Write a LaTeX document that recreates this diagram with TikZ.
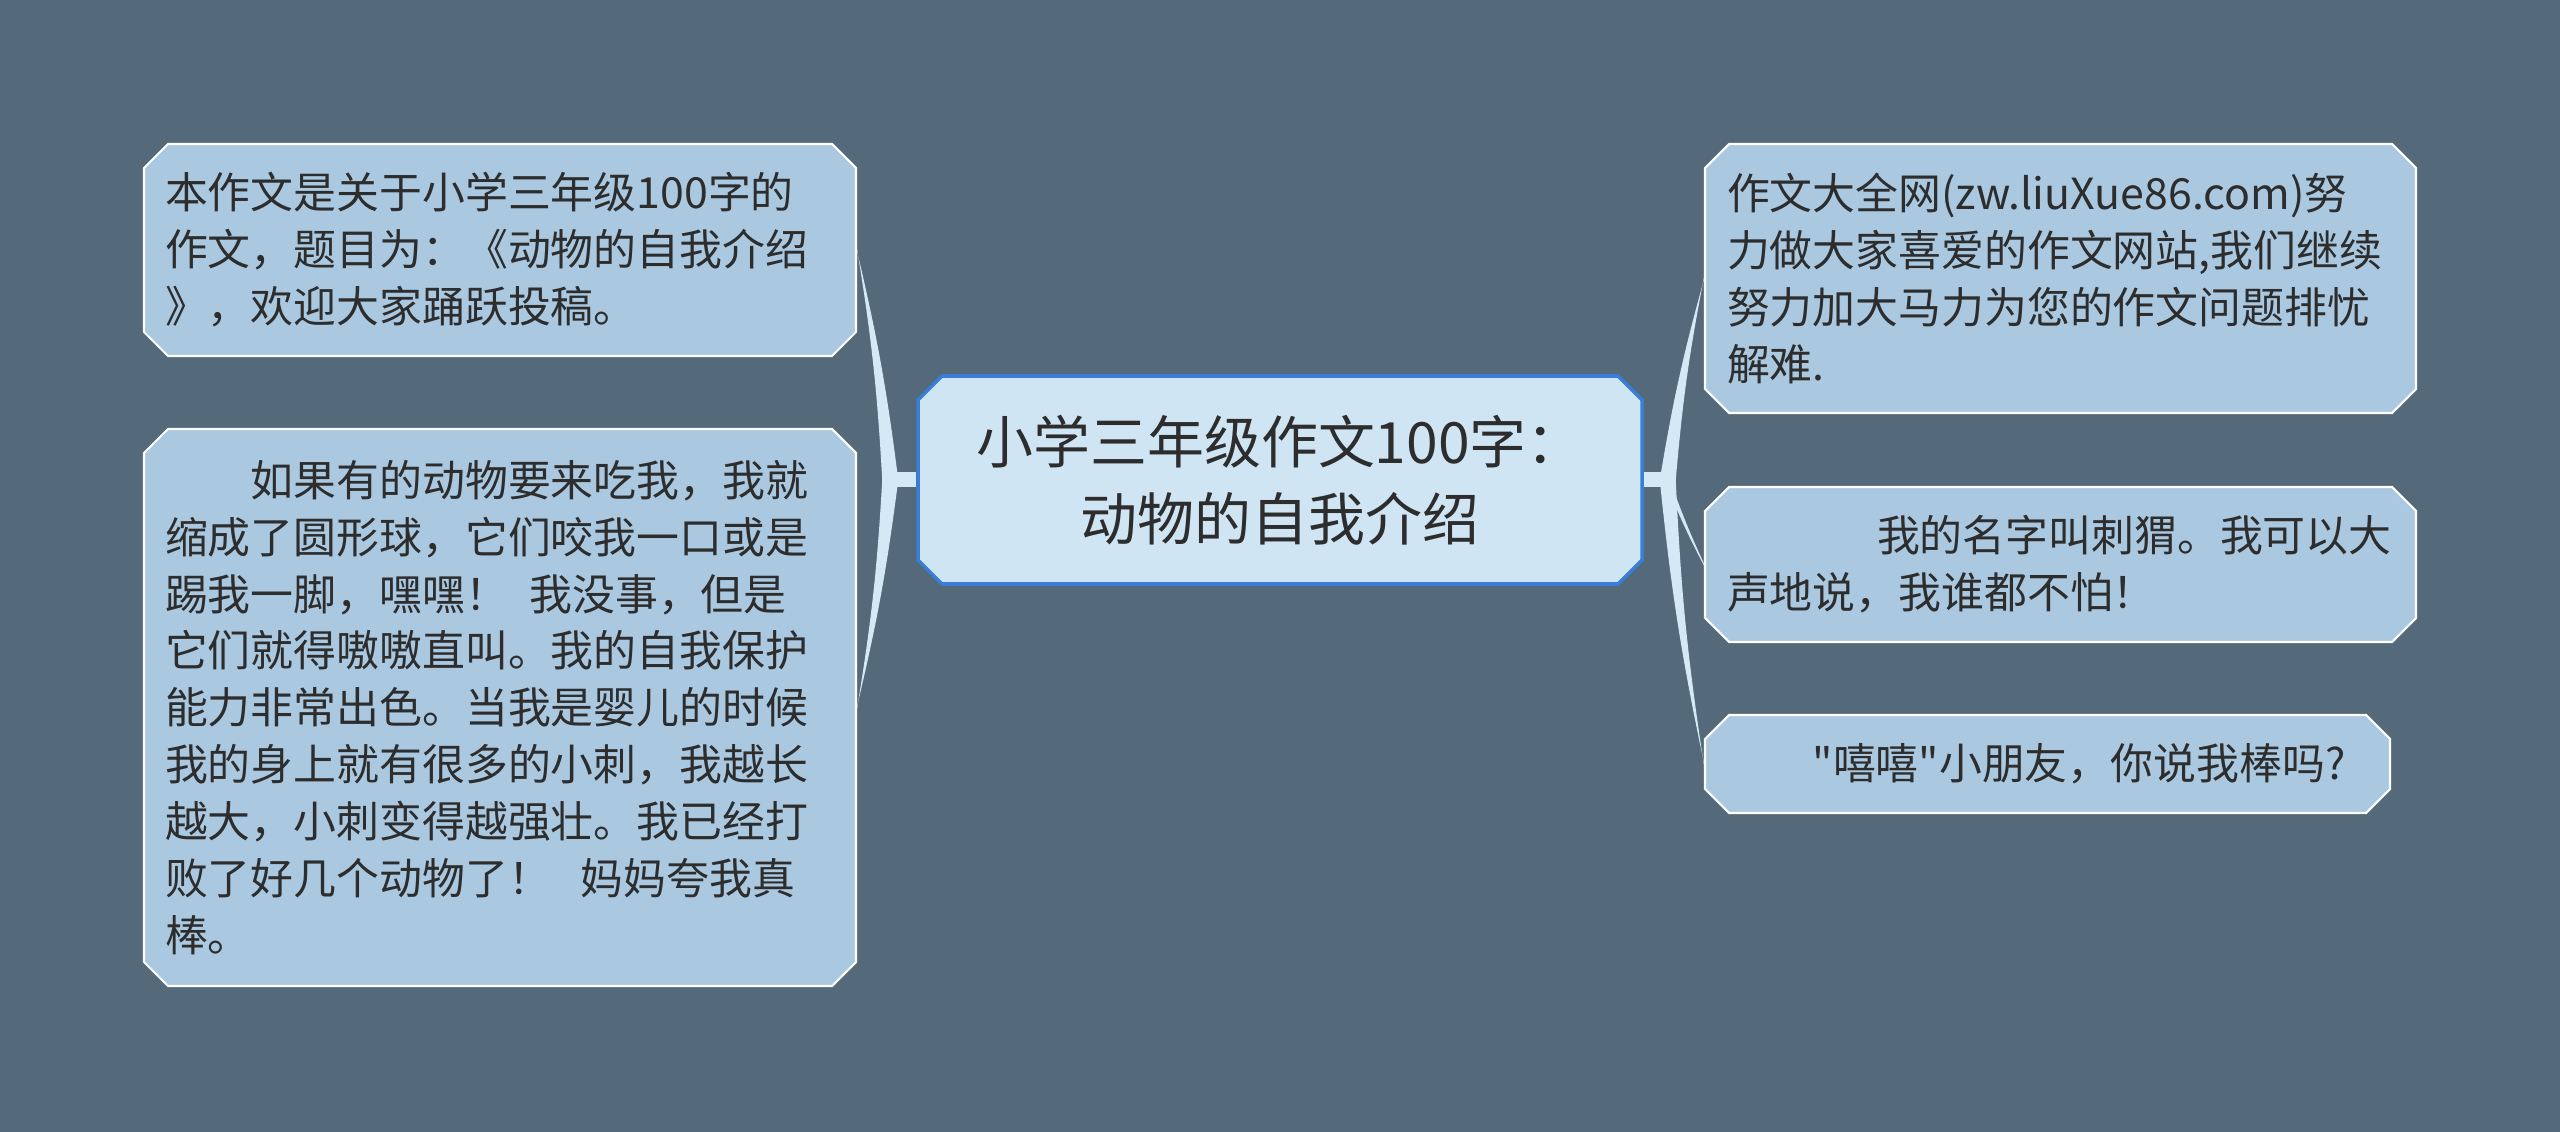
\documentclass[tikz,border=0pt]{standalone}
\usepackage{fontspec}
\newfontfamily\cjk{Noto Sans CJK SC}
\usetikzlibrary{shapes.misc,positioning,backgrounds}
\definecolor{bgslate}{RGB}{84,106,122}
\definecolor{leaffill}{RGB}{170,201,225}
\definecolor{rootfill}{RGB}{207,229,243}
\definecolor{rootline}{RGB}{58,125,215}
\definecolor{twigcol}{RGB}{212,233,245}
\definecolor{ink}{RGB}{45,45,45}
\begin{document}
\begin{tikzpicture}[x=1cm,y=1cm,
  leaf/.style={chamfered rectangle, chamfered rectangle xsep=0.12cm, chamfered rectangle ysep=0.12cm, draw=white, line width=0.6pt, fill=leaffill, text=ink, align=left, inner sep=0pt, font=\cjk\fontsize{12.2}{16.2}\selectfont},
  root/.style={chamfered rectangle, chamfered rectangle xsep=0.12cm, chamfered rectangle ysep=0.12cm, draw=rootline, line width=1pt, fill=rootfill, text=ink, align=center, inner sep=0pt, minimum width=7.24cm, minimum height=2.08cm, font=\cjk\fontsize{16.2}{21.8}\selectfont},
  twig/.style={fill=twigcol}]
\useasboundingbox (0,0) rectangle (25.6,-11.32);
\node[root] (ct) at (12.80,-4.80) {小学三年级作文100字：\\动物的自我介绍};
\node[leaf, text width=6.70cm, minimum width=7.12cm, minimum height=2.12cm] (l1) at (5.00,-2.50) {本作文是关于小学三年级100字的\\作文，题目为：《动物的自我介绍\\》，欢迎大家踊跃投稿。};
\node[leaf, text width=6.70cm, minimum width=7.12cm, minimum height=5.57cm] (l2) at (5.00,-7.075) {\hspace*{2em}如果有的动物要来吃我，我就\\缩成了圆形球，它们咬我一口或是\\踢我一脚，嘿嘿！\hspace{0.5em}我没事，但是\\它们就得嗷嗷直叫。我的自我保护\\能力非常出色。当我是婴儿的时候\\我的身上就有很多的小刺，我越长\\越大，小刺变得越强壮。我已经打\\败了好几个动物了！\hspace{0.7em}妈妈夸我真\\棒。};
\node[leaf, text width=6.67cm, minimum width=7.11cm, minimum height=2.69cm] (r1) at (20.605,-2.785) {作文大全网(zw.liuXue86.com)努\\力做大家喜爱的作文网站,我们继续\\努力加大马力为您的作文问题排忧\\解难.};
\node[leaf, text width=6.67cm, minimum width=7.11cm, minimum height=1.55cm] (r2) at (20.605,-5.645) {\hspace*{3.5em}我的名字叫刺猬。我可以大\\声地说，我谁都不怕！};
\node[leaf, text width=6.41cm, minimum width=6.85cm, minimum height=0.98cm] (r3) at (20.475,-7.64) {\hspace*{2em}"嘻嘻"小朋友，你说我棒吗?};
\coordinate[left=0.26cm of ct.west] (jl);
\coordinate[right=0.24cm of ct.east] (jr);
\begin{scope}[on background layer]
\fill[bgslate] (0,0) rectangle (25.6,-11.32);
\draw[twigcol, line width=0.15cm] (ct.west) -- (jl);
\draw[twigcol, line width=0.15cm] (ct.east) -- (jr);
\fill[twig] ([xshift=-0.08cm]jl) to[bend right=3] ([yshift=0.01cm]l1.east) -- ([yshift=-0.01cm]l1.east) to[bend left=3] ([xshift=0.08cm]jl) -- cycle;
\fill[twig] ([xshift=-0.08cm]jl) to[bend left=3] ([yshift=-0.01cm]l2.east) -- ([yshift=0.01cm]l2.east) to[bend right=3] ([xshift=0.08cm]jl) -- cycle;
\fill[twig] ([xshift=-0.08cm]jr) to[bend left=3] ([yshift=-0.01cm]r1.west) -- ([yshift=0.01cm]r1.west) to[bend right=3] ([xshift=0.08cm]jr) -- cycle;
\fill[twig] ([yshift=0.07cm]jr) to[bend right=3] ([yshift=0.01cm]r2.west) -- ([yshift=-0.01cm]r2.west) to[bend left=3] ([yshift=-0.07cm]jr) -- cycle;
\fill[twig] ([xshift=-0.08cm]jr) to[bend right=3] ([yshift=0.01cm]r3.west) -- ([yshift=-0.01cm]r3.west) to[bend left=3] ([xshift=0.08cm]jr) -- cycle;
\end{scope}
\end{tikzpicture}
\end{document}
